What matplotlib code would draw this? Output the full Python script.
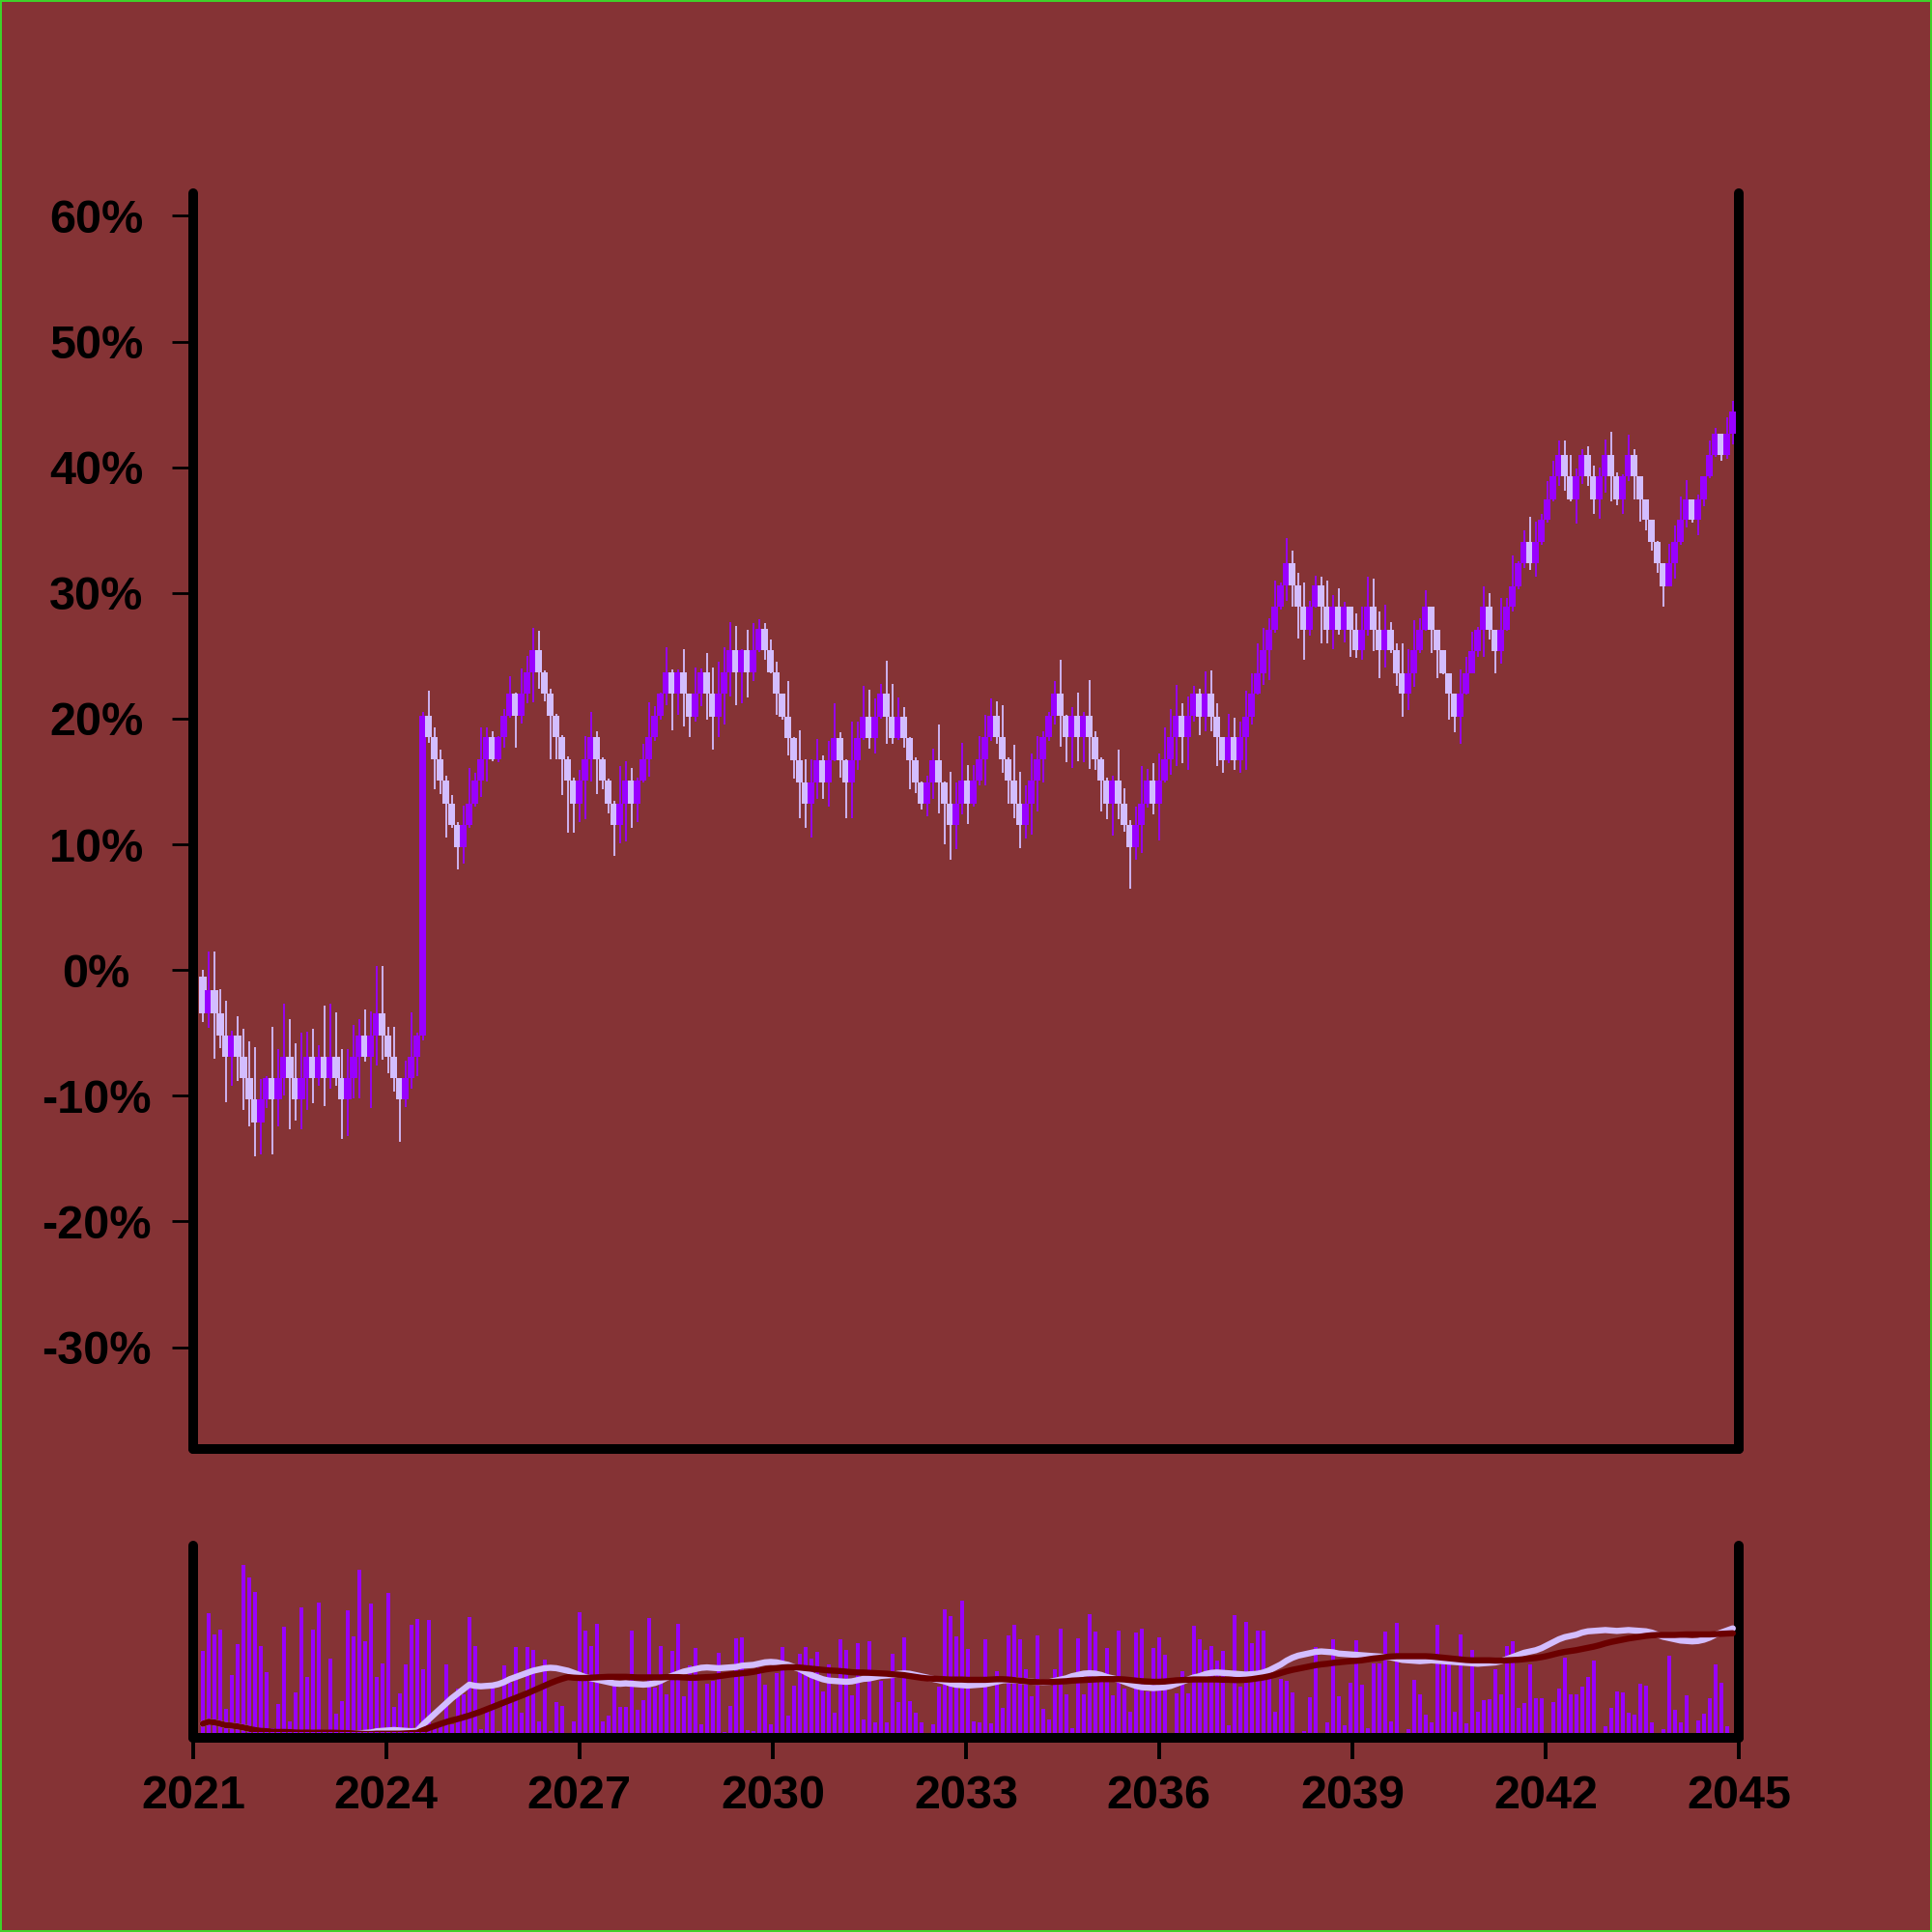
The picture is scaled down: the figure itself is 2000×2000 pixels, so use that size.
import matplotlib
matplotlib.use('Agg')
import matplotlib.pyplot as plt
import matplotlib.dates as mdates
from matplotlib.ticker import FixedLocator, FuncFormatter
import pandas as pd
import datetime as dt

# monthly candles, values in percent
first_open = -0.54
closes = [
    -3.48, -1.61, -3.48, -5.2, -6.92, -5.2, -6.92, -8.61, -10.3, -12.1,
    -10.3, -8.61, -10.3, -8.61, -6.92, -8.61, -10.3, -8.61, -6.92, -8.61,
    -6.92, -8.61, -6.92, -8.61, -10.3, -8.61, -6.92, -5.2, -6.92, -5.2,
    -3.48, -5.2, -6.92, -8.61, -10.3, -8.61, -6.92, -5.2, 20.24, 18.5,
    16.76, 15.04, 13.24, 11.58, 9.78, 11.58, 13.24, 15.04, 16.76, 18.5,
    16.76, 18.5, 20.24, 21.96, 20.24, 21.96, 23.7, 25.42, 23.7, 21.96,
    20.24, 18.5, 16.76, 15.04, 13.24, 15.04, 16.76, 18.5, 16.76, 15.04,
    13.24, 11.58, 13.24, 15.04, 13.24, 15.04, 16.76, 18.5, 20.24, 21.96,
    23.7, 21.96, 23.7, 21.96, 20.16, 21.96, 23.7, 21.96, 20.16, 21.96,
    23.7, 25.42, 23.7, 25.42, 23.7, 25.42, 27.16, 25.42, 23.7, 21.96,
    20.16, 18.45, 16.7, 14.96, 13.24, 14.96, 16.7, 14.96, 16.7, 18.45,
    16.7, 14.96, 16.7, 18.45, 20.16, 18.45, 20.16, 21.96, 20.16, 18.45,
    20.16, 18.45, 16.7, 14.96, 13.24, 14.96, 16.7, 14.96, 13.24, 11.53,
    13.24, 15.04, 13.24, 15.04, 16.78, 18.5, 20.24, 18.5, 16.78, 15.04,
    13.24, 11.53, 13.24, 15.04, 16.78, 18.5, 20.24, 21.96, 20.24, 18.5,
    20.24, 18.5, 20.24, 18.5, 16.78, 15.04, 13.24, 15.04, 13.24, 11.53,
    9.78, 11.53, 13.24, 15.04, 13.24, 15.04, 16.78, 18.5, 20.24, 18.5,
    20.24, 21.96, 20.16, 21.96, 20.16, 18.5, 16.7, 18.5, 16.7, 18.5,
    20.16, 21.96, 23.62, 25.42, 27.08, 28.88, 30.6, 32.34, 30.6, 28.88,
    27.08, 28.88, 30.6, 28.88, 27.08, 28.88, 27.08, 28.88, 27.08, 25.42,
    27.08, 28.88, 27.08, 25.42, 27.08, 25.42, 23.62, 21.96, 23.62, 25.42,
    27.08, 28.88, 27.08, 25.42, 23.62, 21.96, 20.16, 21.96, 23.62, 25.36,
    27.08, 28.88, 27.08, 25.36, 27.08, 28.88, 30.54, 32.34, 34.05, 32.34,
    34.05, 35.8, 37.45, 39.25, 41.0, 39.25, 37.45, 39.25, 41.0, 39.25,
    37.45, 39.25, 41.0, 39.25, 37.45, 39.25, 41.0, 39.25, 37.45, 35.8,
    34.05, 32.34, 30.54, 32.34, 34.05, 35.8, 37.45, 35.8, 37.45, 39.25,
    41.0, 42.7, 41.0, 42.7, 44.45,
]
highs = [
    0.05, 1.46, 1.46, -1.5, -2.46, -4.8, -3.7, -4.7, -5.7, -6.1,
    -8.7, -8.4, -4.5, -6.3, -2.7, -3.9, -5.8, -5.0, -4.9, -4.7,
    -6.0, -2.8, -2.7, -3.4, -6.3, -6.3, -4.4, -3.9, -3.1, -3.3,
    0.3, 0.3, -4.5, -4.5, -8.6, -7.2, -3.4, -5.0, 20.5, 22.2,
    19.3, 17.5, 15.5, 13.9, 11.8, 13.1, 16.1, 15.7, 19.3, 19.3,
    19.0, 18.6, 20.8, 23.4, 22.1, 24.0, 25.0, 27.2, 27.0, 23.8,
    22.4, 20.4, 18.7, 17.0, 15.3, 15.9, 18.6, 20.5, 19.0, 16.9,
    15.2, 13.5, 16.2, 16.6, 16.1, 15.3, 18.0, 21.3, 21.0, 22.1,
    25.7, 23.9, 23.9, 25.5, 22.0, 24.1, 24.0, 25.2, 24.1, 24.5,
    25.7, 27.7, 27.4, 25.5, 27.1, 27.6, 27.9, 27.6, 26.3, 24.5,
    22.0, 23.0, 18.5, 19.1, 16.8, 16.8, 18.4, 17.1, 18.2, 21.2,
    18.9, 16.8, 19.8, 19.8, 22.6, 22.3, 21.6, 22.8, 24.6, 22.8,
    21.7, 20.9, 18.5, 16.9, 15.0, 15.5, 17.6, 19.5, 15.0, 15.8,
    14.9, 18.1, 16.3, 16.3, 18.6, 20.3, 21.6, 21.4, 21.1, 16.9,
    17.9, 15.8, 14.7, 17.2, 18.6, 19.0, 20.5, 23.0, 24.65, 20.3,
    20.9, 22.1, 20.5, 23.1, 19.0, 16.9, 15.3, 15.5, 17.5, 14.5,
    11.9, 13.0, 16.2, 16.0, 16.45, 17.2, 19.3, 20.8, 22.7, 21.2,
    21.8, 22.6, 22.4, 23.75, 23.8, 21.2, 18.5, 20.4, 20.1, 19.8,
    22.2, 23.6, 26.0, 27.2, 28.0, 31.0, 30.8, 34.4, 33.4, 31.6,
    30.8, 29.4, 31.4, 31.3, 31.0, 29.8, 30.4, 29.3, 28.9, 28.4,
    28.9, 31.3, 31.1, 28.5, 29.1, 27.7, 26.0, 26.0, 25.5, 27.85,
    28.0, 30.2, 28.9, 27.1, 25.4, 23.6, 22.0, 23.9, 24.9, 26.95,
    27.3, 30.5, 30.0, 27.1, 29.6, 29.6, 32.97, 32.5, 35.0, 36.05,
    35.7, 36.3, 38.9, 40.5, 42.1, 42.1, 41.0, 39.9, 41.4, 41.7,
    40.1, 40.0, 42.2, 42.8, 39.6, 39.4, 42.6, 41.4, 39.3, 37.45,
    35.8, 34.1, 32.4, 33.9, 35.4, 37.7, 39.0, 37.45, 37.8, 39.3,
    42.1, 43.1, 42.7, 44.0, 45.3,
]
lows = [
    -4.17, -4.56, -7.05, -6.2, -10.5, -9.2, -8.8, -11.1, -12.4, -14.8,
    -14.7, -11.0, -14.7, -12.4, -10.0, -12.7, -12.0, -12.7, -11.1, -10.6,
    -9.2, -10.8, -9.4, -9.2, -13.4, -13.2, -10.2, -10.2, -7.3, -11.0,
    -7.6, -7.1, -8.2, -9.7, -13.7, -10.9, -9.4, -8.4, -5.6, 18.1,
    14.4, 14.0, 10.55, 11.3, 8.0, 8.5, 11.3, 13.0, 13.8, 15.0,
    16.6, 16.5, 17.7, 20.1, 17.7, 19.6, 21.2, 21.3, 22.4, 21.4,
    16.8, 16.8, 13.9, 10.9, 10.9, 11.8, 12.0, 15.0, 14.0, 14.4,
    12.5, 9.1, 10.1, 10.2, 11.3, 11.8, 14.9, 15.4, 18.2, 19.9,
    21.1, 19.1, 20.3, 19.4, 18.5, 19.8, 21.0, 19.9, 17.5, 18.5,
    19.5, 21.8, 21.1, 21.2, 21.7, 23.0, 25.3, 24.7, 23.6, 20.3,
    19.9, 17.1, 15.2, 12.1, 11.3, 10.55, 13.6, 13.6, 13.0, 16.6,
    15.3, 12.1, 12.1, 15.9, 18.3, 17.6, 17.2, 20.0, 18.0, 18.0,
    18.3, 17.7, 14.4, 14.1, 12.8, 12.2, 13.6, 12.5, 10.0, 8.8,
    9.6, 12.4, 11.6, 13.0, 14.66, 14.66, 18.2, 18.0, 15.7, 13.24,
    12.1, 9.66, 10.45, 10.8, 12.6, 14.9, 18.2, 19.5, 17.8, 16.5,
    16.1, 16.6, 16.5, 16.0, 15.9, 12.6, 12.0, 10.7, 12.0, 11.0,
    6.5, 8.8, 9.3, 12.9, 12.4, 10.3, 14.9, 15.55, 16.2, 16.45,
    15.9, 19.8, 18.7, 19.0, 19.0, 16.2, 15.7, 16.45, 15.9, 15.7,
    15.9, 19.5, 21.9, 22.7, 23.1, 26.8, 28.7, 29.4, 28.9, 26.4,
    24.65, 26.6, 28.8, 26.0, 26.0, 25.5, 26.7, 26.05, 24.95, 24.8,
    24.7, 26.6, 25.4, 23.2, 24.1, 25.2, 22.6, 20.16, 20.7, 22.5,
    25.2, 27.0, 25.2, 23.2, 23.5, 19.9, 18.9, 18.0, 21.9, 23.6,
    24.9, 24.9, 26.3, 23.6, 24.4, 27.0, 28.5, 30.3, 32.0, 31.8,
    31.3, 33.8, 35.6, 37.3, 38.5, 38.1, 37.3, 35.5, 38.7, 38.5,
    36.3, 35.9, 38.0, 37.3, 37.0, 36.3, 38.9, 37.45, 35.7, 35.0,
    33.35, 31.6, 28.88, 30.5, 31.1, 33.8, 35.2, 35.6, 34.6, 36.9,
    39.1, 40.8, 40.5, 40.7, 41.8,
]
volume = [
    43.6, 63.9, 52.7, 55.0, 12.7, 30.9, 47.6, 89.7, 82.8, 75.4,
    46.6, 32.6, 2.6, 15.5, 56.5, 6.4, 21.8, 67.0, 30.1, 55.3,
    69.4, 0.5, 39.9, 10.1, 17.2, 65.3, 51.5, 87.1, 48.8, 68.9,
    30.1, 37.3, 74.6, 13.7, 21.3, 36.8, 57.9, 60.8, 34.2, 60.5,
    3.0, 5.3, 36.4, 4.5, 23.9, 20.8, 61.9, 46.6, 2.0, 12.7,
    27.0, 1.0, 36.1, 27.0, 45.7, 10.7, 45.7, 44.3, 6.4, 39.3,
    0.9, 16.7, 14.6, 0.0, 6.4, 64.3, 54.5, 46.4, 58.4, 6.0,
    9.3, 25.3, 13.7, 13.7, 54.6, 12.4, 17.5, 61.2, 24.4, 46.6,
    20.8, 43.8, 58.2, 19.8, 36.1, 45.5, 4.6, 26.5, 27.8, 42.8,
    0.5, 14.6, 50.7, 51.0, 1.5, 1.2, 35.1, 25.8, 4.6, 32.1,
    45.7, 9.3, 25.3, 42.4, 45.9, 39.5, 43.3, 22.2, 36.4, 10.7,
    49.8, 44.5, 20.3, 48.1, 7.2, 49.0, 5.8, 27.8, 5.8, 42.4,
    16.7, 51.0, 17.2, 10.7, 5.8, 0.0, 4.6, 24.9, 66.0, 62.5,
    51.5, 70.8, 45.0, 6.4, 5.8, 49.8, 5.0, 33.0, 13.2, 51.9,
    57.9, 49.8, 34.2, 19.8, 51.9, 12.9, 7.2, 34.2, 55.8, 20.6,
    2.4, 50.5, 20.4, 63.4, 54.0, 31.6, 45.4, 20.1, 54.8, 23.9,
    11.5, 53.6, 55.8, 22.3, 45.4, 51.0, 41.6, 0.0, 21.0, 33.0,
    21.0, 57.4, 49.8, 44.5, 46.6, 38.5, 43.6, 4.3, 63.1, 24.7,
    59.1, 48.1, 54.8, 54.8, 34.7, 11.5, 28.7, 27.8, 21.8, 0.0,
    0.9, 18.9, 45.9, 0.0, 5.5, 50.0, 19.8, 4.1, 27.0, 49.3,
    25.8, 2.4, 37.3, 37.3, 54.1, 6.4, 58.8, 0.0, 2.1, 28.2,
    20.6, 9.8, 5.8, 57.9, 37.3, 36.4, 11.2, 52.4, 5.2, 44.2,
    11.5, 17.5, 18.0, 34.2, 20.4, 46.4, 48.8, 13.2, 16.2, 36.4,
    18.4, 18.4, 0.0, 16.7, 23.9, 40.2, 20.4, 20.4, 24.9, 30.1,
    38.7, 0.0, 3.8, 13.2, 22.2, 21.8, 10.7, 9.8, 26.1, 25.3,
    5.5, 0.0, 2.1, 41.1, 12.4, 5.5, 20.1, 0.0, 6.7, 10.1,
    18.4, 36.4, 27.0, 3.4, 0.0,
]
tick_years = [2021, 2024, 2027, 2030, 2033, 2036, 2039, 2042, 2045]
pct_ticks = [-30, -20, -10, 0, 10, 20, 30, 40, 50, 60]

bg = '#853335'
up_col = '#9900ff'
down_col = '#d3bdff'
ma_fast_col = '#d3bdff'
ma_slow_col = '#6b0000'

dates = pd.date_range('2021-02-24', '2044-11-28', periods=len(closes))
x = mdates.date2num(dates.to_pydatetime())
opens = [first_open] + closes[:-1]
colors = [up_col if c >= o else down_col for o, c in zip(opens, closes)]
s = pd.Series(closes)
ma_fast = s.rolling(9, min_periods=1).mean()
ma_slow = s.rolling(26, min_periods=1).mean()

plt.rcParams['font.family'] = ['Liberation Sans', 'DejaVu Sans']
plt.rcParams['font.weight'] = 'bold'

fig = plt.figure(figsize=(10, 10), dpi=200, facecolor=bg)
fig.patch.set_edgecolor('#3fd12a')
fig.patch.set_linewidth(0.8)

ax = fig.add_axes([0.1, 0.25, 0.8, 0.65], facecolor=bg)
axv = fig.add_axes([0.1, 0.1005, 0.8, 0.0995], facecolor=bg, sharex=ax)
axm = fig.add_axes([0.1, 0.1035, 0.8, 0.0965], sharex=ax)
axm.patch.set_visible(False)

# candles
ax.vlines(x, lows, highs, colors=colors, linewidth=0.65, zorder=2)
ax.bar(x, [c - o for o, c in zip(opens, closes)], bottom=opens, width=40,
       color=colors, linewidth=0, zorder=3)

# volume + moving averages of the close
axv.bar(x, volume, width=22.5, color=up_col, linewidth=0, zorder=2)
axm.plot(x, ma_fast, color=ma_fast_col, lw=2.3, solid_capstyle='round')
axm.plot(x, ma_slow, color=ma_slow_col, lw=2.3, solid_capstyle='round')
axm.set_ylim(-7.26, 78.1)
axm.axis('off')

ax.set_xlim(mdates.date2num(dt.datetime(2021, 1, 1)), mdates.date2num(dt.datetime(2045, 1, 1)))
ax.set_ylim(-38.1, 61.8)
axv.set_ylim(-2.6, 100)

for a in (ax, axv):
    a.spines['top'].set_visible(False)
    for side in ('left', 'right', 'bottom'):
        a.spines[side].set_linewidth(3.6)
        a.spines[side].set_color('black')
        a.spines[side].set_capstyle('round')

ax.yaxis.set_major_locator(FixedLocator(pct_ticks))
ax.yaxis.set_major_formatter(FuncFormatter(lambda v, p: '%d%%' % v))
ax.tick_params(axis='y', left=True, right=False, length=7.8, width=1.0, pad=28.3,
               labelsize=17.5, colors='black')
ax.tick_params(axis='x', bottom=False, labelbottom=False)
for lbl in ax.get_yticklabels():
    lbl.set_horizontalalignment('center')
    lbl.set_fontweight('bold')

axv.xaxis.set_major_locator(FixedLocator([mdates.date2num(dt.datetime(y, 1, 1)) for y in tick_years]))
axv.xaxis.set_major_formatter(mdates.DateFormatter('%Y'))
axv.tick_params(axis='x', length=7.8, width=1.4, pad=5.8, labelsize=17.5, colors='black')
axv.tick_params(axis='y', left=False, labelleft=False)
for lbl in axv.get_xticklabels():
    lbl.set_fontweight('bold')

fig.savefig('out.png', dpi=200, facecolor=bg, edgecolor=fig.get_edgecolor())
